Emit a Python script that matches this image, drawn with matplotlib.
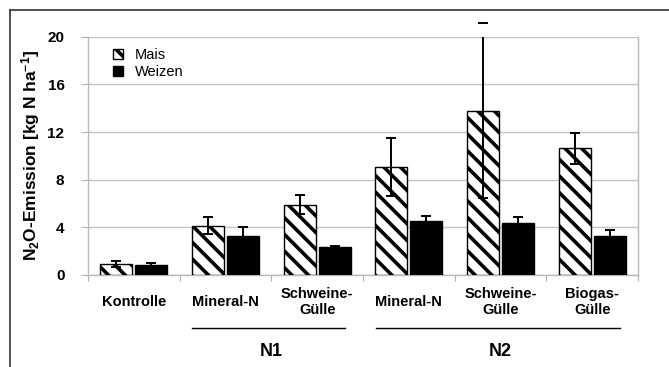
import matplotlib
matplotlib.use("Agg")
import matplotlib.pyplot as plt
from matplotlib.patches import Patch
from matplotlib.lines import Line2D
import numpy as np

categories = ["Kontrolle", "Mineral-N", "Schweine-\nGülle", "Mineral-N", "Schweine-\nGülle", "Biogas-\nGülle"]
mais = [0.9, 4.15, 5.9, 9.05, 13.8, 10.65]
mais_err = [0.25, 0.7, 0.8, 2.45, 7.35, 1.3]
weizen = [0.8, 3.3, 2.35, 4.5, 4.4, 3.25]
weizen_err = [0.2, 0.7, 0.05, 0.45, 0.45, 0.5]
groups = [("N1", 1, 2), ("N2", 3, 5)]
yticks = [0, 4, 8, 12, 16, 20]

plt.rcParams['font.family'] = ['Liberation Sans', 'DejaVu Sans']
plt.rcParams['mathtext.fontset'] = 'custom'
plt.rcParams['mathtext.rm'] = 'Liberation Sans:bold'
plt.rcParams['mathtext.bf'] = 'Liberation Sans:bold'
plt.rcParams['mathtext.it'] = 'Liberation Sans:bold'
plt.rcParams['hatch.linewidth'] = 2.6
plt.rcParams['hatch.color'] = 'black'

fig = plt.figure(figsize=(6.69, 3.67), dpi=100)
ax = fig.add_axes([88/669, 1-275/367, 550/669, (275-36.7)/367])

x = np.arange(len(categories))
w = 0.35
off = 0.19
ax.bar(x - off, mais, w, color='white', edgecolor='black', hatch='\\\\', linewidth=1.0, zorder=3)
ax.bar(x + off, weizen, w, color='black', edgecolor='black', linewidth=1.0, zorder=3)

for xs, vals, errs in [(x - off, mais, mais_err), (x + off, weizen, weizen_err)]:
    eb = ax.errorbar(xs, vals, yerr=errs, fmt='none', ecolor='black', elinewidth=1.4,
                     capsize=3.5, capthick=1.4, zorder=4)
    for c in eb[1]:
        c.set_clip_on(False)

ax.set_xlim(-0.5, len(categories) - 0.5)
ax.set_ylim(0, 20)
ax.set_yticks(yticks)
ax.set_yticklabels([str(t) for t in yticks], fontsize=11, fontweight='bold')
ax.yaxis.grid(True, color='#c4c4c4', linewidth=1.0, zorder=0)
ax.set_axisbelow(True)
ax.tick_params(axis='y', length=5, color='#b0b0b0', pad=12)
ax.set_xticks(np.arange(len(categories) + 1) - 0.5)
ax.set_xticklabels([])
ax.tick_params(axis='x', length=4, color='#b0b0b0', direction='out')
for s in ['left', 'right', 'bottom']:
    ax.spines[s].set_color('#b8b8b8')
    ax.spines[s].set_linewidth(1.0)
ax.spines['top'].set_visible(False)

ax.set_ylabel('N$_2$O-Emission [kg N ha$^{-1}$]', fontsize=12.5, fontweight='bold', labelpad=4)

trans = ax.get_xaxis_transform()
for xi, lab in zip(x, categories):
    ax.text(xi, -0.113, lab, transform=trans, ha='center', va='center', multialignment='center',
            fontsize=10.5, fontweight='bold', linespacing=1.15)

for name, a, b in groups:
    ax.add_line(Line2D([a - 0.36, b + 0.3], [-0.221, -0.221], transform=trans, color='black',
                       linewidth=1.0, clip_on=False))
    ax.text((a + b) / 2, -0.323, name, transform=trans, ha='center', va='center',
            fontsize=13, fontweight='bold')

handles = [Patch(facecolor='white', edgecolor='black', hatch='\\\\', linewidth=1.0, label='Mais'),
           Patch(facecolor='black', edgecolor='black', label='Weizen')]
ax.legend(handles=handles, loc='upper left', bbox_to_anchor=(0.035, 0.975), frameon=False,
          handlelength=0.7, handleheight=0.7, handletextpad=0.8, fontsize=10.5,
          borderaxespad=0, labelspacing=0.2)

# outer frame
fig.add_artist(Line2D([10/669, 1], [1-10/367, 1-10/367], transform=fig.transFigure, color='#333333', linewidth=1.2))
fig.add_artist(Line2D([10/669, 10/669], [0, 1-10/367], transform=fig.transFigure, color='#333333', linewidth=1.2))

fig.savefig('out.png', dpi=100)
